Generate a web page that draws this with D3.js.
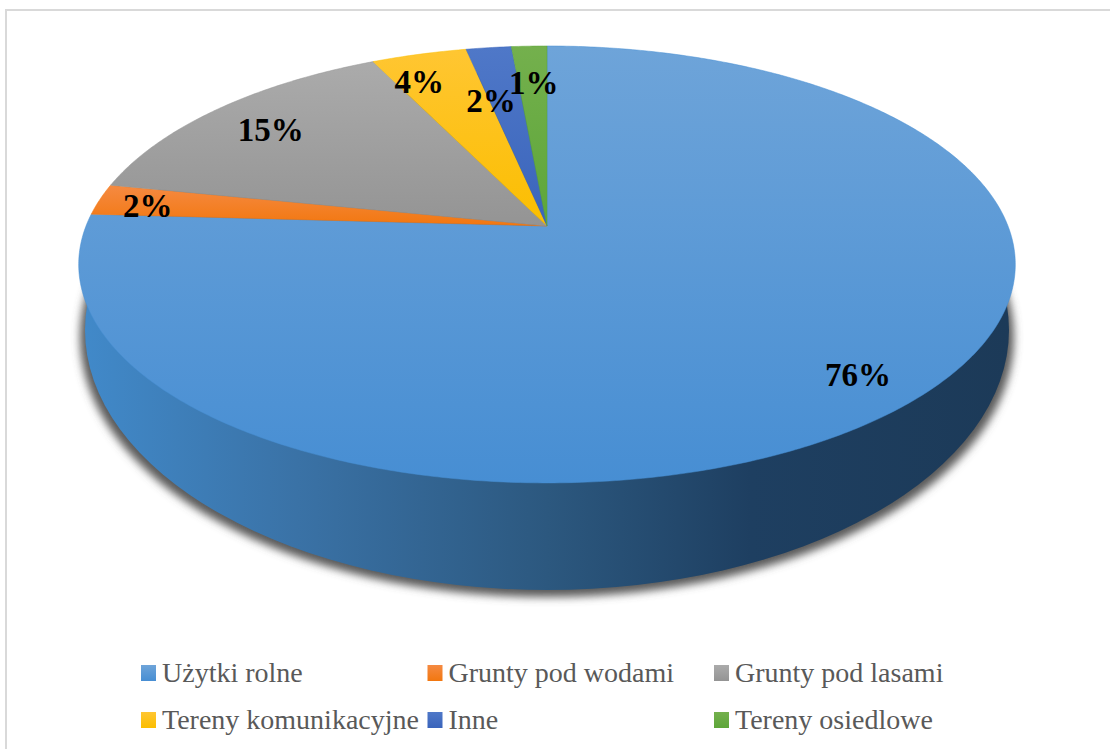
<!DOCTYPE html>
<html>
<head>
<meta charset="utf-8">
<script src="https://cdnjs.cloudflare.com/ajax/libs/d3/7.8.5/d3.min.js"></script>
<style>
  html, body { margin: 0; padding: 0; background: #fff; overflow: hidden; }
  svg { display: block; }
  text { font-family: "Liberation Serif", serif; }
</style>
</head>
<body>
<svg id="chart" width="1110" height="749"></svg>
<script>
// shares, the labels round them
const categories = ["Użytki rolne", "Grunty pod wodami", "Grunty pod lasami", "Tereny komunikacyjne", "Inne", "Tereny osiedlowe"];
const shares = [75.9, 2.3, 14.6, 3.9, 1.85, 1.45];
const labels = ["76%", "2%", "15%", "4%", "2%", "1%"];

const colorsLight = ["#6ea4d9", "#f58a42", "#ababab", "#ffc632", "#4f78c8", "#74b04d"];
const colorsDark = ["#478ed3", "#f2770f", "#949494", "#fbbe00", "#3a64bb", "#5da639"];

// where each label sits: fraction of the radius, then nudges in px
const labelRadius = [0.86, 0.875, 0.81, 0.82, 0.67, 0.77];
const labelNudgeX = [5, -7, -5, -20, -15, 1];
const labelNudgeY = [0, 3, 0, 0, 0, 0];

const svg = d3.select("#chart");
const defs = svg.append("defs");

// tilted disc: the apex sits above the centre of the ellipse
const apex = { x: 547, y: 226 };
const tilt = -0.176;
const radiusX = 461;
const radiusY = 211.7;

function project(angle, r) {
  const u = r * Math.sin(angle);
  const v = -r * Math.cos(angle);
  const w = 1 + tilt * v;
  return [apex.x + (radiusX * u) / w, apex.y + (radiusY * v) / w];
}

// frame
svg.append("rect")
  .attr("x", 6).attr("y", 10)
  .attr("width", 1120).attr("height", 760)
  .attr("fill", "#fff")
  .attr("stroke", "#d9d9d9")
  .attr("stroke-width", 2);

// shadow and side wall
defs.append("filter")
  .attr("id", "soft")
  .attr("x", "-5%").attr("y", "-5%").attr("width", "110%").attr("height", "110%")
  .append("feGaussianBlur")
  .attr("stdDeviation", 4);

const wallGrad = defs.append("linearGradient")
  .attr("id", "wall")
  .attr("gradientUnits", "userSpaceOnUse")
  .attr("x1", 85).attr("x2", 1010).attr("y1", 0).attr("y2", 0);
[
  [0, "#4189c9"],
  [0.23, "#3a72a6"],
  [0.5, "#2c587f"],
  [0.72, "#1e3f61"],
  [1, "#1c3a58"],
].forEach(([o, c]) => wallGrad.append("stop").attr("offset", o).attr("stop-color", c));

svg.append("ellipse")
  .attr("cx", 547).attr("cy", 337)
  .attr("rx", 467).attr("ry", 260)
  .attr("fill", "#5a5a5a")
  .attr("filter", "url(#soft)");

svg.append("ellipse")
  .attr("cx", 547).attr("cy", 330)
  .attr("rx", 462).attr("ry", 260)
  .attr("fill", "url(#wall)");

// top face
const pie = d3.pie().sort(null).value((d) => d);
const slices = pie(shares);
const line = d3.line();

function slicePath(s) {
  const steps = Math.max(2, Math.ceil((s.endAngle - s.startAngle) / 0.01));
  const arc = d3.range(steps + 1).map((i) =>
    project(s.startAngle + ((s.endAngle - s.startAngle) * i) / steps, 1)
  );
  return line([[apex.x, apex.y], ...arc]) + "Z";
}

slices.forEach((s, i) => {
  const g = defs.append("linearGradient")
    .attr("id", `slice${i}`)
    .attr("x1", 0).attr("x2", 0).attr("y1", 0).attr("y2", 1);
  g.append("stop").attr("offset", 0).attr("stop-color", colorsLight[i]);
  g.append("stop").attr("offset", 1).attr("stop-color", colorsDark[i]);
});

svg.append("g")
  .selectAll("path")
  .data(slices)
  .enter()
  .append("path")
  .attr("d", slicePath)
  .attr("fill", (_, i) => `url(#slice${i})`)
  .attr("stroke", (_, i) => colorsDark[i])
  .attr("stroke-width", 0.5);

// value labels
svg.append("g")
  .selectAll("text")
  .data(slices)
  .enter()
  .append("text")
  .attr("x", (s, i) => project((s.startAngle + s.endAngle) / 2, labelRadius[i])[0] + labelNudgeX[i])
  .attr("y", (s, i) => project((s.startAngle + s.endAngle) / 2, labelRadius[i])[1] + labelNudgeY[i])
  .attr("dy", "0.35em")
  .attr("text-anchor", "middle")
  .attr("font-size", 33)
  .attr("font-weight", "bold")
  .attr("fill", "#000")
  .text((_, i) => labels[i]);

// legend, three columns on two rows
const legendX = d3.scaleLinear().domain([0, 2]).range([141, 714]);
const legendY = d3.scaleLinear().domain([0, 1]).range([673, 720]);

const legend = svg.append("g")
  .selectAll("g")
  .data(categories)
  .enter()
  .append("g")
  .attr("transform", (_, i) => `translate(${legendX(i % 3)}, ${legendY(Math.floor(i / 3))})`);

legend.append("rect")
  .attr("x", 0).attr("y", -8)
  .attr("width", 15).attr("height", 16)
  .attr("fill", (_, i) => `url(#slice${i})`);

legend.append("text")
  .attr("x", 21)
  .attr("dy", "0.33em")
  .attr("font-size", 28)
  .attr("fill", "#595959")
  .text((d) => d);
</script>
</body>
</html>
